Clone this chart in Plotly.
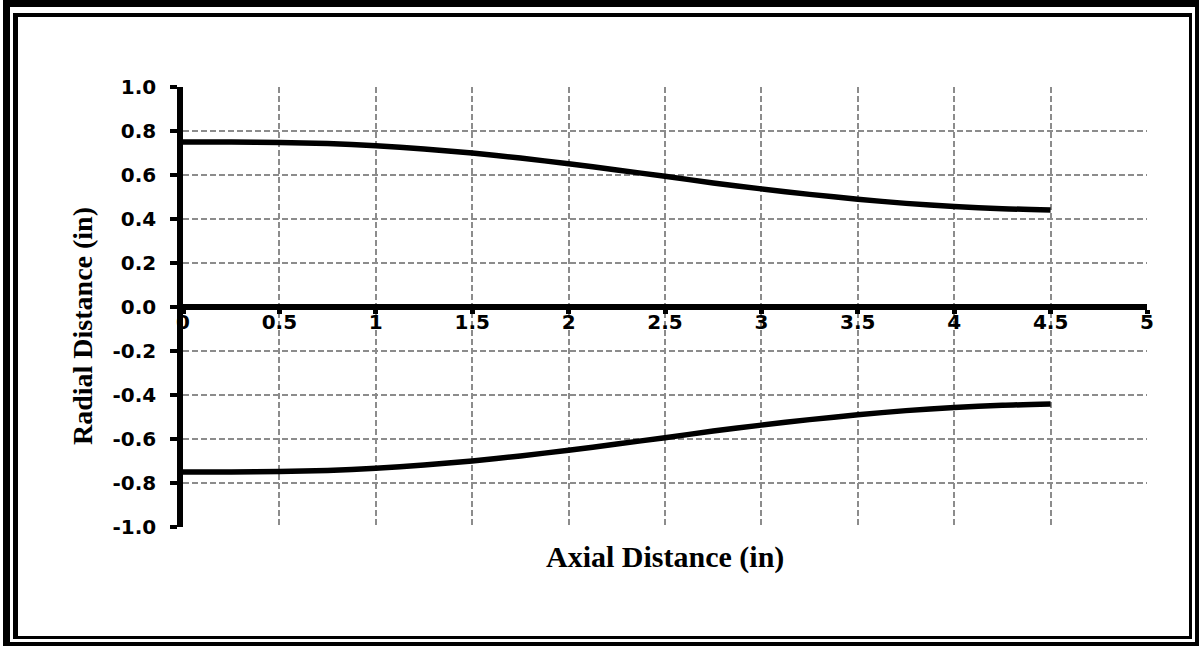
import plotly.graph_objects as go

# Nozzle contour: axial station (in) and wall radius (in)
axial = [0.0, 0.25, 0.5, 0.75, 1.0, 1.25, 1.5, 1.75, 2.0, 2.25, 2.5, 2.75,
         3.0, 3.25, 3.5, 3.75, 4.0, 4.25, 4.5]
radius_upper = [0.750, 0.750, 0.748, 0.743, 0.733, 0.718, 0.700, 0.677, 0.651,
                0.623, 0.594, 0.564, 0.537, 0.512, 0.490, 0.471, 0.457, 0.447,
                0.441]
radius_lower = [-r for r in radius_upper]

x_ticks = [0, 0.5, 1, 1.5, 2, 2.5, 3, 3.5, 4, 4.5, 5]
x_tick_text = ["0", "0.5", "1", "1.5", "2", "2.5", "3", "3.5", "4", "4.5", "5"]
y_ticks = [1.0, 0.8, 0.6, 0.4, 0.2, 0.0, -0.2, -0.4, -0.6, -0.8, -1.0]
y_tick_text = ["1.0", "0.8", "0.6", "0.4", "0.2", "0.0", "-0.2", "-0.4",
               "-0.6", "-0.8", "-1.0"]

x_title = "Axial Distance (in)"
y_title = "Radial Distance (in)"

# Page geometry
PAGE_W, PAGE_H = 1199, 648
ML, MR, MT, MB = 183, 52, 87, 121
PW, PH = PAGE_W - ML - MR, PAGE_H - MT - MB


def px_x(px):
    return (px - ML) / PW


def px_y(py):
    return 1 - (py - MT) / PH


fig = go.Figure()
for ys in (radius_upper, radius_lower):
    fig.add_trace(go.Scatter(
        x=axial, y=ys, mode="lines",
        line=dict(color="black", width=5.5, shape="spline", smoothing=0.8),
        showlegend=False, hoverinfo="skip",
    ))

tick_font = dict(family="DejaVu Sans", size=20, color="black", weight="bold")
grid = dict(showgrid=True, gridcolor="#8c8c8c", gridwidth=1.8,
            griddash="6px,3px")

fig.update_xaxes(
    range=[0, 5], tickvals=x_ticks, ticktext=x_tick_text,
    anchor="free", position=0.5,
    showline=True, linecolor="black", linewidth=5.5,
    ticks="outside", ticklen=4, tickwidth=5, tickcolor="black",
    tickfont=tick_font, ticklabelstandoff=-9, zeroline=False, **grid,
)
fig.update_yaxes(
    range=[-1, 1], tickvals=y_ticks, ticktext=y_tick_text,
    showline=True, linecolor="black", linewidth=5.5,
    ticks="outside", ticklen=7, tickwidth=4, tickcolor="black",
    tickfont=tick_font, ticklabelstandoff=10, zeroline=False, **grid,
)

x_title_font = dict(family="Liberation Serif", size=30, color="black",
                    weight="bold")
y_title_font = dict(family="Liberation Serif", size=28, color="black",
                    weight="bold")
fig.add_annotation(text=x_title, xref="paper", yref="paper",
                   x=px_x(665), y=px_y(557), showarrow=False,
                   font=x_title_font, xanchor="center", yanchor="middle")
fig.add_annotation(text=y_title, xref="paper", yref="paper",
                   x=px_x(82), y=px_y(326), showarrow=False, textangle=-90,
                   font=y_title_font, xanchor="center", yanchor="middle")

# Double border frame around the whole chart
def bar(x0, y0, x1, y1):
    fig.add_shape(type="rect", xref="paper", yref="paper",
                  x0=px_x(x0), x1=px_x(x1), y0=px_y(y0), y1=px_y(y1),
                  fillcolor="black", line=dict(width=0), layer="above")

# outer
bar(3, 0, 1199, 7)
bar(3, 0, 10, 646)
bar(1195, 0, 1199, 646)
bar(3, 642, 1199, 646)
# inner
bar(13, 13, 1192, 17)
bar(13, 13, 18, 639)
bar(1189, 13, 1192, 639)
bar(13, 636, 1192, 639)

fig.update_layout(
    width=PAGE_W, height=PAGE_H,
    margin=dict(l=ML, r=MR, t=MT, b=MB, pad=0),
    paper_bgcolor="white", plot_bgcolor="white",
)

fig.write_html("out.html")
